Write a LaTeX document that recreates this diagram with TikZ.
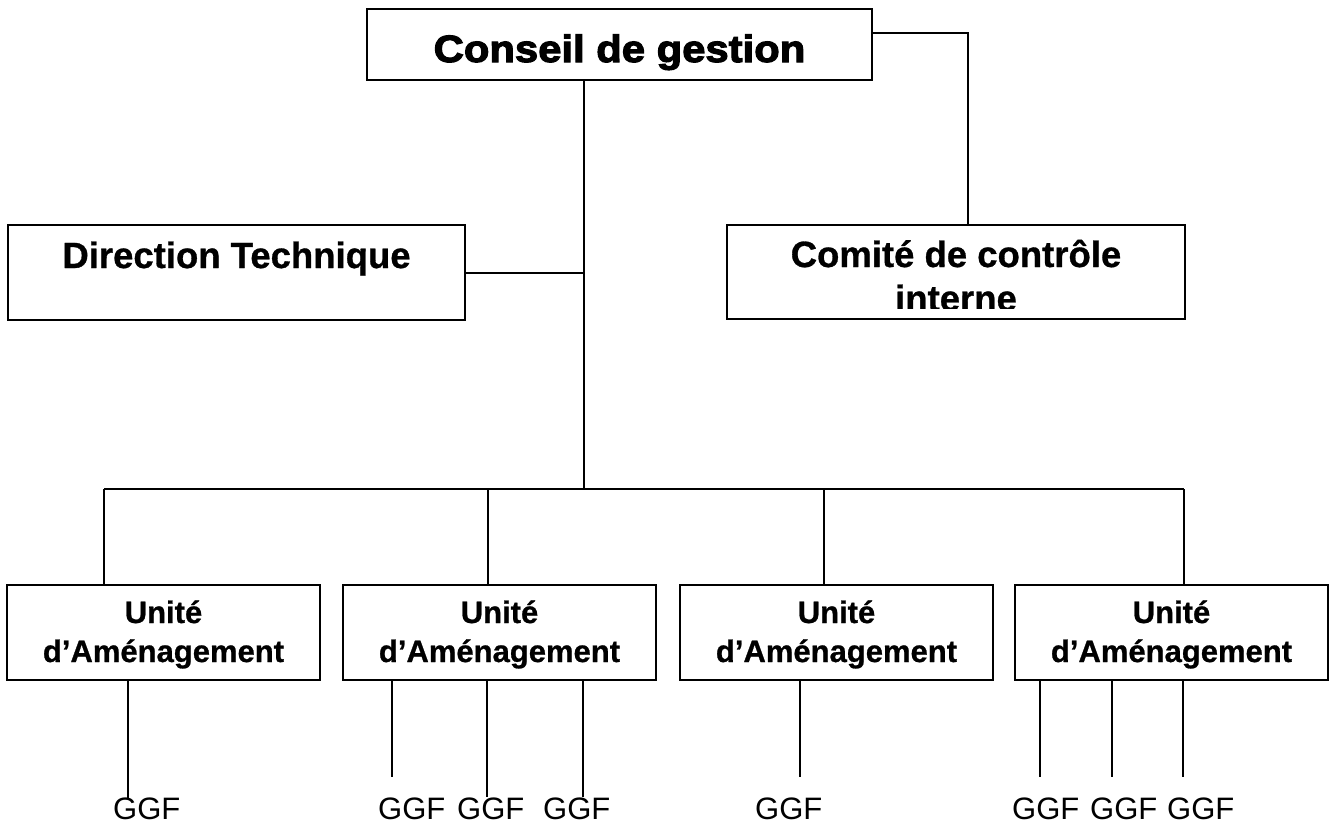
\documentclass[tikz,border=0pt]{standalone}
\usepackage{fontspec}
\setmainfont{Liberation Sans}
\newfontfamily\heavyfont[FakeBold=3,FakeStretch=1.1]{Liberation Sans Bold}
\newfontfamily\bfont[FakeBold=0.8]{Liberation Sans Bold}
\begin{document}
\begin{tikzpicture}[x=1pt,y=-1pt,
  box/.style={draw=black,line width=2pt,fill=none,inner sep=0pt,rectangle},
  lbl/.style={inner sep=0pt,anchor=base},
  ggf/.style={inner sep=0pt,anchor=base west,font=\fontsize{31}{36}\selectfont},
  ua/.style={lbl,font=\bfont\fontsize{31}{37}\selectfont},
  big/.style={lbl,font=\bfont\fontsize{36.5}{42}\selectfont},
  wire/.style={line width=2pt,draw=black}]
\useasboundingbox (0,0) rectangle (1333,823);

% boxes
\node[box,minimum width=505pt,minimum height=71pt] (cg) at (619.5,44.5) {};
\node[box,minimum width=457pt,minimum height=95pt] (dt) at (236.5,272.5) {};
\node[box,minimum width=458pt,minimum height=94pt] (cc) at (956,272) {};
\node[box,minimum width=313pt,minimum height=95pt] (ua1) at (163.5,632.5) {};
\node[box,minimum width=313pt,minimum height=95pt] (ua2) at (499.5,632.5) {};
\node[box,minimum width=313pt,minimum height=95pt] (ua3) at (836.5,632.5) {};
\node[box,minimum width=313pt,minimum height=95pt] (ua4) at (1171.5,632.5) {};

% texts
\node[lbl,font=\heavyfont\fontsize{38}{44}\selectfont] (cgt) at (619.5,62) {Conseil de gestion};
\node[big] (dtt) at (236.5,268) {Direction Technique};
\node[big] (cct1) at (956,267) {Comité de contrôle};
\begin{scope}
\clip (727,226) rectangle (1185,308);
\node[big] (cct2) at (956,311) {interne};
\end{scope}
\foreach \i/\x in {1/163.5,2/499.5,3/836.5,4/1171.5}{
  \node[ua] (u\i a) at (\x,623) {Unité};
  \node[ua] (u\i b) at (\x,662) {d’Aménagement};
}

% GGF labels
\node[ggf] (g1) at (113,819) {GGF};
\node[ggf] (g2) at (378,819) {GGF};
\node[ggf] (g3) at (457,819) {GGF};
\node[ggf] (g4) at (543,819) {GGF};
\node[ggf] (g5) at (755,819) {GGF};
\node[ggf] (g6) at (1012,819) {GGF};
\node[ggf] (g7) at (1090,819) {GGF};
\node[ggf] (g8) at (1167,819) {GGF};

% connectors
\coordinate (bus) at (584,489);
\coordinate (k) at (968,33);
\coordinate (d1) at (104,489);
\coordinate (d2) at (488,489);
\coordinate (d3) at (824,489);
\coordinate (d4) at (1184,489);
\draw[wire] (cg.south -| bus) -- (bus);
\draw[wire] (dt.east) -- (dt.east -| bus);
\draw[wire] (cg.east |- k) -- (k) -- (k |- cc.north);
\draw[wire] (d1) -- (d4);
\draw[wire] (d1) -- (d1 |- ua1.north);
\draw[wire] (d2) -- (d2 |- ua2.north);
\draw[wire] (d3) -- (d3 |- ua3.north);
\draw[wire] (d4) -- (d4 |- ua4.north);

\coordinate (e1) at (128,798);
\coordinate (e2) at (392,777);
\coordinate (e3) at (487,797);
\coordinate (e4) at (583,797);
\coordinate (e5) at (800,777);
\coordinate (e6) at (1040,777);
\coordinate (e7) at (1112,777);
\coordinate (e8) at (1183,777);
\draw[wire] (ua1.south -| e1) -- (e1);
\draw[wire] (ua2.south -| e2) -- (e2);
\draw[wire] (ua2.south -| e3) -- (e3);
\draw[wire] (ua2.south -| e4) -- (e4);
\draw[wire] (ua3.south -| e5) -- (e5);
\draw[wire] (ua4.south -| e6) -- (e6);
\draw[wire] (ua4.south -| e7) -- (e7);
\draw[wire] (ua4.south -| e8) -- (e8);
\end{tikzpicture}
\end{document}
